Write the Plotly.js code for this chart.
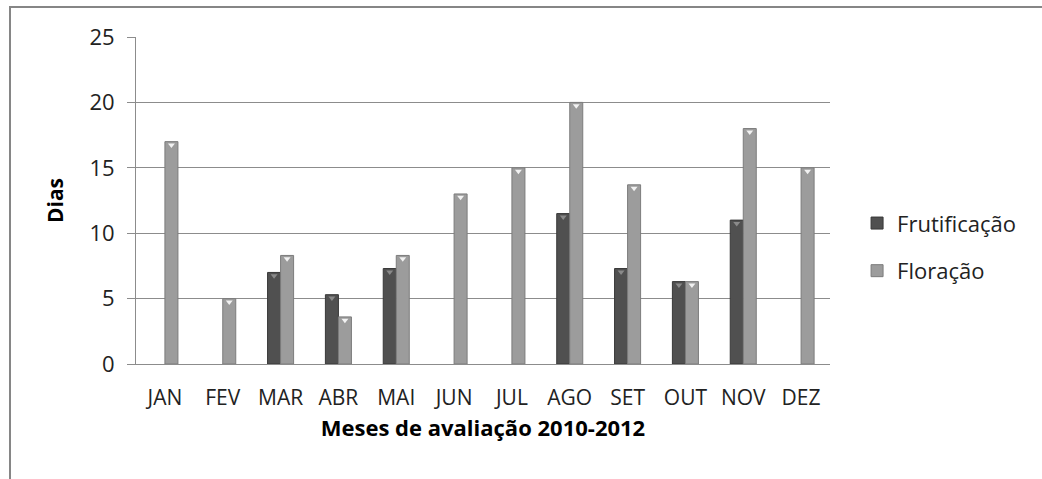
<!DOCTYPE html>
<html>
<head>
<meta charset="utf-8">
<script src="https://cdn.plot.ly/plotly-3.0.1.min.js"></script>
<style>
  html, body { margin: 0; padding: 0; background: #fff; }
  #frame { position: absolute; left: 9px; top: 6px; width: 1033px; height: 473px;
           border-top: 2px solid #868686; border-left: 2px solid #868686; box-sizing: border-box; }
  #chart { position: absolute; left: 0; top: 0; width: 1042px; height: 479px; }
</style>
</head>
<body>
<div id="frame"></div>
<div id="chart"></div>
<script>
const months = ["JAN", "FEV", "MAR", "ABR", "MAI", "JUN", "JUL", "AGO", "SET", "OUT", "NOV", "DEZ"];
const frutificacao = [null, null, 7, 5.3, 7.3, null, null, 11.5, 7.3, 6.3, 11, null];
const floracao = [17, 5, 8.3, 3.6, 8.3, 13, 15, 20, 13.7, 6.3, 18, 15];
const yTicks = [0, 5, 10, 15, 20, 25];

const font = "'Open Sans', 'Noto Sans', sans-serif";

const traces = [
  {
    type: "bar", name: "Frutificação", x: months, y: frutificacao,
    legendgroup: "a",
    marker: { color: "#505050", line: { color: "#383838", width: 1 } },
    hoverinfo: "x+y+name"
  },
  {
    type: "bar", name: "Floração", x: months, y: floracao,
    legendgroup: "b",
    marker: { color: "#9c9c9c", line: { color: "#7c7c7c", width: 1 } },
    hoverinfo: "x+y+name"
  },
  {
    type: "scatter", mode: "markers", x: months, y: frutificacao, yaxis: "y2",
    showlegend: false, hoverinfo: "skip", legendgroup: "a", cliponaxis: false,
    marker: { symbol: "triangle-down", size: 6, color: "#8a8a8a", line: { width: 0 } }
  },
  {
    type: "scatter", mode: "markers", x: months, y: floracao, yaxis: "y2",
    showlegend: false, hoverinfo: "skip", legendgroup: "b", cliponaxis: false,
    marker: { symbol: "triangle-down", size: 6, color: "#f2f2f2", line: { width: 0 } }
  }
];

const layout = {
  width: 1042, height: 479,
  paper_bgcolor: "rgba(0,0,0,0)",
  plot_bgcolor: "#ffffff",
  margin: { l: 136, r: 212, t: 37, b: 115 },
  barmode: "group",
  bargap: 0.55,
  bargroupgap: 0,
  scattermode: "group",
  scattergap: 0.55,
  font: { family: font, size: 22, color: "#222" },
  showlegend: true,
  legend: {
    x: 1.039, xanchor: "left", y: 0.357, yanchor: "middle",
    traceorder: "grouped", tracegroupgap: 16,
    font: { family: font, size: 22, color: "#222" },
    bgcolor: "rgba(0,0,0,0)"
  },
  xaxis: {
    type: "category",
    showgrid: false,
    showline: true, linecolor: "#8c8c8c", linewidth: 1,
    ticks: "outside", ticklen: 15, tickcolor: "rgba(0,0,0,0)",
    tickfont: { family: font, size: 21, color: "#222" },
    title: { text: "Meses de avaliação 2010-2012", font: { family: font, size: 22, color: "#000", weight: "bold" }, standoff: 10 },
    fixedrange: true
  },
  yaxis: {
    range: [0, 25],
    tickvals: yTicks,
    ticktext: yTicks.map(String),
    showgrid: true, gridcolor: "#8c8c8c", gridwidth: 1,
    showline: true, linecolor: "#8c8c8c", linewidth: 1,
    zeroline: false,
    ticks: "outside", ticklen: 8, tickcolor: "#8c8c8c",
    ticklabelstandoff: 8,
    tickfont: { family: font, size: 22, color: "#222" },
    title: { text: "Dias", font: { family: font, size: 21, color: "#000", weight: "bold" }, standoff: 20 },
    fixedrange: true
  },
  yaxis2: {
    overlaying: "y", range: [0.26, 25.26], visible: false, fixedrange: true
  }
};

Plotly.newPlot("chart", traces, layout, { displayModeBar: false, staticPlot: true });
</script>
</body>
</html>
